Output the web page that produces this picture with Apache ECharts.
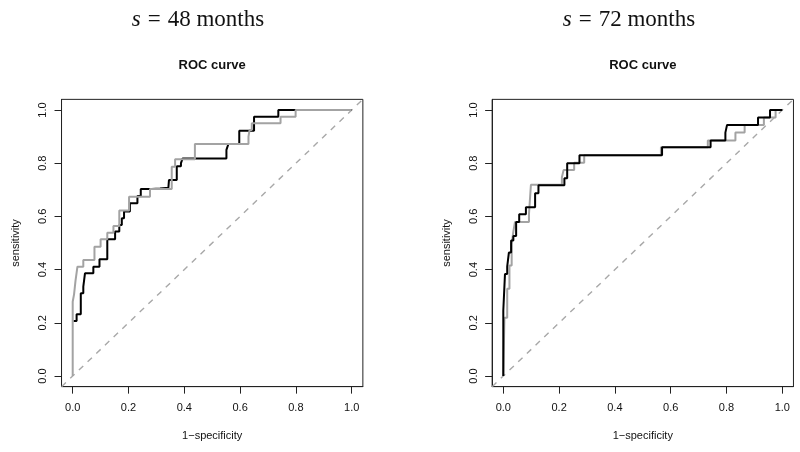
<!DOCTYPE html>
<html>
<head>
<meta charset="utf-8">
<script src="https://cdn.jsdelivr.net/npm/echarts@6/dist/echarts.min.js"></script>
<style>html,body{margin:0;padding:0;background:#fff}#c{width:800px;height:452px}</style>
</head>
<body>
<div id="c"></div>
<script>
// ---- data ----
const panelTitles = ['48', '72'];
const tickValues = [0, 0.2, 0.4, 0.6, 0.8, 1.0];
const diagonal = [[-0.04, -0.04], [1.04, 1.04]];

// s = 48 months : [1-specificity, sensitivity] (top of each step)
const left48Black = [[0.003,0.207],[0.014,0.232],[0.029,0.311],[0.038,0.336],[0.044,0.386],[0.074,0.411],[0.096,0.439],[0.124,0.514],[0.152,0.543],[0.167,0.568],[0.176,0.593],[0.184,0.618],[0.205,0.649],[0.232,0.677],[0.244,0.703],[0.283,0.705],[0.313,0.708],[0.343,0.712],[0.345,0.737],[0.373,0.789],[0.388,0.800],[0.394,0.818],[0.551,0.850],[0.558,0.872],[0.597,0.922],[0.650,0.975],[0.737,1.0],[1.0,1.0]];
const left48Gray = [[0,0],[0,0.279],[0.005,0.308],[0.010,0.358],[0.017,0.411],[0.038,0.436],[0.078,0.486],[0.100,0.514],[0.124,0.539],[0.146,0.564],[0.167,0.622],[0.202,0.674],[0.277,0.703],[0.355,0.787],[0.367,0.815],[0.438,0.872],[0.630,0.900],[0.634,0.925],[0.642,0.950],[0.745,0.975],[0.799,1.0],[1.0,1.0]];

// s = 72 months
const right72Black = [[0,0],[0,0.246],[0.006,0.383],[0.014,0.411],[0.020,0.464],[0.028,0.509],[0.036,0.526],[0.046,0.579],[0.057,0.608],[0.081,0.634],[0.114,0.687],[0.126,0.717],[0.219,0.743],[0.229,0.800],[0.273,0.830],[0.569,0.860],[0.743,0.885],[0.796,0.915],[0.802,0.944],[0.913,0.972],[0.956,1.0],[1.0,1.0]];
const right72Gray = [[0,0],[0.004,0.219],[0.014,0.328],[0.022,0.415],[0.030,0.496],[0.036,0.543],[0.042,0.579],[0.092,0.609],[0.099,0.719],[0.210,0.747],[0.216,0.774],[0.254,0.802],[0.290,0.830],[0.565,0.860],[0.733,0.885],[0.832,0.915],[0.865,0.944],[0.934,0.972],[0.976,1.0],[1.0,1.0]];

// ---- layout ----
const FONT = '"Liberation Sans", Arial, sans-serif';
const SERIF = '"Liberation Serif", "DejaVu Serif", serif';
const panels = [
  {dataLeft: 72.7, titleX: 198},
  {dataLeft: 503.3, titleX: 629}
];
const dataW = 279, dataH = 266, dataTop = 110;
const pad = 0.04;

const grids = [], xAxes = [], yAxes = [], series = [], titles = [];
panels.forEach((p, i) => {
  const boxLeft = p.dataLeft - pad * dataW, boxTop = dataTop - pad * dataH;
  const boxW = dataW * (1 + 2 * pad), boxH = dataH * (1 + 2 * pad);
  grids.push({left: boxLeft, top: boxTop, width: boxW, height: boxH, show: true,
    borderColor: '#222', borderWidth: 1, backgroundColor: 'transparent'});
  const common = {
    type: 'value', gridIndex: i, min: -pad, max: 1 + pad,
    splitLine: {show: false},
    axisLine: {show: true, onZero: false, lineStyle: {color: '#222', width: 1}},
    axisTick: {show: true, length: 7, inside: false, customValues: tickValues, lineStyle: {color: '#222', width: 1}},
    nameLocation: 'middle',
    nameTextStyle: {fontFamily: FONT, fontSize: 11, color: '#111'}
  };
  xAxes.push(Object.assign({}, common, {position: 'bottom', name: '1\u2212specificity', nameGap: 44,
    axisLabel: {show: true, margin: 16, customValues: tickValues, fontFamily: FONT, fontSize: 11, color: '#111',
      formatter: v => v.toFixed(1)}}));
  yAxes.push(Object.assign({}, common, {position: 'left', name: 'sensitivity', nameGap: 40,
    axisLabel: {show: true, margin: 13, rotate: 90, customValues: tickValues, fontFamily: FONT, fontSize: 11, color: '#111',
      formatter: v => v.toFixed(1)}}));
  series.push({type: 'line', xAxisIndex: i, yAxisIndex: i, data: diagonal, symbol: 'none', silent: true,
    lineStyle: {color: '#a8a8a8', width: 1.4, type: [6, 6]}, z: 1});
  titles.push({text: '{i|s}{e|=}' + panelTitles[i] + ' months', left: p.titleX, top: 8, textAlign: 'center', padding: 0,
    textStyle: {fontFamily: SERIF, fontSize: 23, fontWeight: 'normal', color: '#111',
      rich: {
        i: {fontFamily: SERIF, fontStyle: 'italic', fontSize: 23, color: '#111'},
        e: {fontFamily: SERIF, fontSize: 23, color: '#111', padding: [0, 7, 0, 7]}
      }}});
  titles.push({text: 'ROC curve', left: p.dataLeft + dataW / 2, top: 59, textAlign: 'center', padding: 0,
    textStyle: {fontFamily: FONT, fontSize: 13, fontWeight: 'bold', color: '#111'}});
});

function curve(data, grid, color, z) {
  return {type: 'line', xAxisIndex: grid, yAxisIndex: grid, data: data, step: 'end', symbol: 'none', silent: true,
    clip: false, lineStyle: {color: color, width: 2}, z: z};
}
series.push(curve(left48Black, 0, '#000000', 3));
series.push(curve(left48Gray, 0, '#a3a3a3', 4));
series.push(curve(right72Gray, 1, '#a3a3a3', 3));
series.push(curve(right72Black, 1, '#000000', 4));

const chart = echarts.init(document.getElementById('c'), null, {renderer: 'canvas'});
chart.setOption({animation: false, backgroundColor: '#ffffff', title: titles, grid: grids, xAxis: xAxes, yAxis: yAxes, series: series});
</script>
</body>
</html>
